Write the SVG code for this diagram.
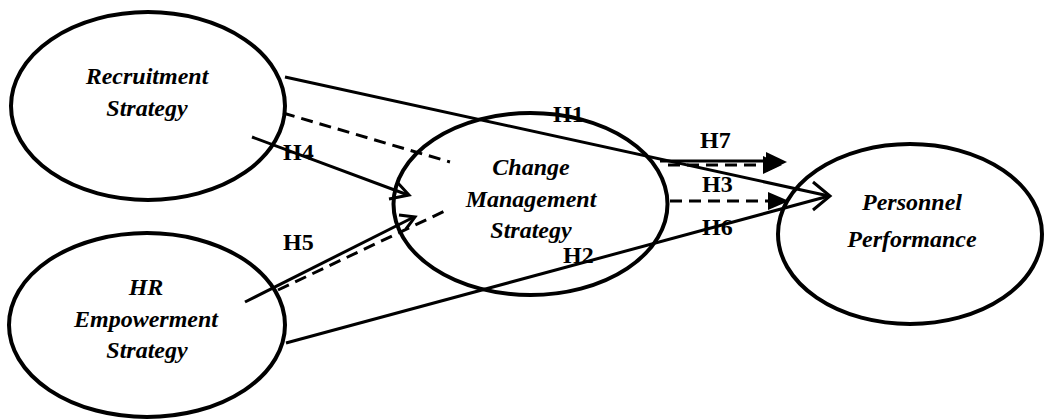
<svg xmlns="http://www.w3.org/2000/svg" width="1045" height="419" viewBox="0 0 1045 419">
<style>
.node{fill:#fff;stroke:#000;stroke-width:4}
.nt{font-family:"Liberation Serif","Times New Roman",serif;font-weight:bold;font-style:italic;font-size:24px;text-anchor:middle;fill:#000}
.lbl{font-family:"Liberation Serif","Times New Roman",serif;font-weight:bold;font-size:24px;fill:#000}
.ln{fill:none;stroke:#000;stroke-width:3}
.ds{fill:none;stroke:#000;stroke-width:3;stroke-dasharray:12 7}
.ah{fill:none;stroke:#000;stroke-width:3;stroke-linejoin:miter}
.fh{fill:#000;stroke:none}
</style>
<rect width="1045" height="419" fill="#fff"/>
<g id="recruitment">
<ellipse class="node" cx="148" cy="106" rx="137" ry="94"/>
<text class="nt" x="147" y="84">Recruitment</text>
<text class="nt" x="147" y="116">Strategy</text>
</g>
<g id="hr-empowerment">
<ellipse class="node" cx="147" cy="325" rx="138" ry="92"/>
<text class="nt" x="146" y="295">HR</text>
<text class="nt" x="146" y="327">Empowerment</text>
<text class="nt" x="147" y="358">Strategy</text>
</g>
<g id="change-management">
<ellipse class="node" cx="530.5" cy="204" rx="137" ry="91"/>
<text class="nt" x="531" y="175">Change</text>
<text class="nt" x="531" y="207">Management</text>
<text class="nt" x="531" y="238">Strategy</text>
</g>
<g id="personnel-performance">
<ellipse class="node" cx="910" cy="234" rx="132" ry="90"/>
<text class="nt" x="912" y="210">Personnel</text>
<text class="nt" x="912" y="247">Performance</text>
</g>
<g id="connectors">
<line class="ln" x1="285" y1="77" x2="829" y2="196"/>
<line class="ln" x1="286" y1="343" x2="829" y2="196"/>
<polyline class="ah" points="813,182 830,196 813,210"/>
<line class="ds" x1="283" y1="113" x2="450" y2="162"/>
<line class="ln" x1="252" y1="137" x2="408" y2="195"/>
<polyline class="ah" points="397,182 409,195 389,199"/>
<line class="ln" x1="245" y1="302" x2="414" y2="217"/>
<polyline class="ah" points="399,215 415,217 406,229"/>
<line class="ds" x1="278" y1="290" x2="447" y2="210"/>
<line class="ln" x1="660" y1="161" x2="770" y2="161"/>
<line class="ds" x1="668" y1="165" x2="770" y2="165"/>
<polygon class="fh" points="766,152 787,162 766,172"/>
<polygon class="fh" points="763,156 782,165 763,174"/>
<line class="ds" x1="670" y1="201" x2="772" y2="201"/>
<polygon class="fh" points="768,192 789,201 768,210"/>
</g>
<g id="labels">
<text class="lbl" x="553" y="122">H1</text>
<text class="lbl" x="283" y="160">H4</text>
<text class="lbl" x="283" y="250">H5</text>
<text class="lbl" x="563" y="263">H2</text>
<text class="lbl" x="700" y="148">H7</text>
<text class="lbl" x="702" y="192">H3</text>
<text class="lbl" x="702" y="235">H6</text>
</g>
</svg>
